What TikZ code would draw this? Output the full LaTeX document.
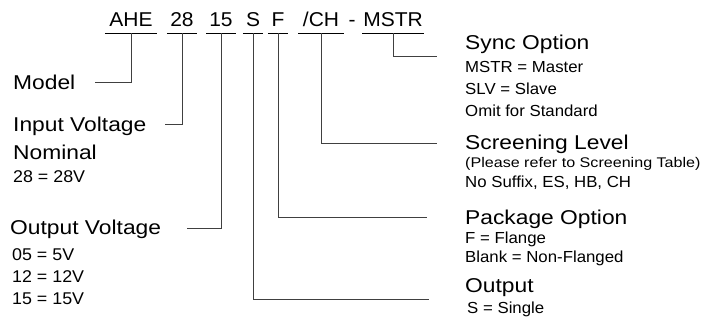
\documentclass[tikz,border=0pt]{standalone}
\usepackage{fontspec}
\setmainfont{Liberation Sans}
\newfontfamily\lsansA[FakeStretch=1.14]{Liberation Sans}
\newfontfamily\lsansB[FakeStretch=1.05]{Liberation Sans}
\newfontfamily\lsansC[FakeStretch=1.15]{Liberation Sans}
\newcommand\bigfnt{\lsansA\fontsize{20}{24}\selectfont}
\newcommand\codefnt{\lsansB\fontsize{20}{24}\selectfont}
\newcommand\smallfnt{\lsansB\fontsize{16}{19}\selectfont}
\newcommand\leftsmallfnt{\lsansB\fontsize{17}{20}\selectfont}
\newcommand\tinyfnt{\lsansC\fontsize{14}{17}\selectfont}
\tikzset{
  codepart/.style={font=\codefnt, anchor=base, inner xsep=0pt, inner ysep=6pt, text depth=0pt},
  biglab/.style={font=\bigfnt, anchor=base west, inner sep=0pt},
  smalllab/.style={font=\smallfnt, anchor=base west, inner sep=0pt},
  leftsmall/.style={font=\leftsmallfnt, anchor=base west, inner sep=0pt},
  tinylab/.style={font=\tinyfnt, anchor=base west, inner sep=0pt},
  uline/.style={draw=black, line width=0.9pt},
  conn/.style={draw=black!75, line width=0.9pt}
}
\begin{document}
\begin{tikzpicture}[x=1pt,y=-1pt]
\useasboundingbox (0,0) rectangle (704,329);
% part number
\node[codepart, minimum width=52pt] (ahe) at (131,27) {AHE};
\node[codepart, minimum width=30pt] (vin) at (182,27) {28};
\node[codepart, minimum width=29pt] (vout) at (221,27) {15};
\node[codepart, minimum width=20pt] (outp) at (253,27) {S};
\node[codepart, minimum width=20pt] (pkg) at (278,27) {F};
\node[codepart, minimum width=45pt] (scr) at (321,27) {/CH};
\node[codepart] (dash) at (352,27) {-};
\node[codepart, minimum width=61pt] (sync) at (393,27) {MSTR};
\foreach \n in {ahe,vin,vout,outp,pkg,scr,sync}
  \draw[uline] (\n.south west) -- (\n.south east);
% left labels
\node[biglab] (model) at (13,89) {Model};
\node[biglab] (inv) at (13,131) {Input Voltage};
\node[biglab] (nom) at (13,159) {Nominal};
\node[leftsmall] (inv1) at (13,182) {28 = 28V};
\node[biglab] (outv) at (10,234) {Output Voltage};
\node[leftsmall] (outv1) at (12,260) {05 = 5V};
\node[leftsmall] (outv2) at (12,282) {12 = 12V};
\node[leftsmall] (outv3) at (12,304) {15 = 15V};
% right labels
\node[biglab] (syncl) at (465,50) {Sync Option};
\node[smalllab] (sync1) at (465,73) {MSTR = Master};
\node[smalllab] (sync2) at (465,94) {SLV = Slave};
\node[smalllab] (sync3) at (465,116) {Omit for Standard};
\node[biglab] (scrl) at (465,149) {Screening Level};
\node[tinylab] (scr1) at (465,167) {(Please refer to Screening Table)};
\node[smalllab] (scr2) at (465,187) {No Suffix, ES, HB, CH};
\node[biglab] (pkgl) at (465,224) {Package Option};
\node[smalllab] (pkg1) at (465,243) {F = Flange};
\node[smalllab] (pkg2) at (465,262) {Blank = Non-Flanged};
\node[biglab] (outl) at (465,292) {Output};
\node[smalllab] (out1) at (467,313) {S = Single};
% connector ends
\coordinate (cmodel) at (95,82);
\coordinate (cinv) at (165,124);
\coordinate (coutv) at (187,228);
\coordinate (csync) at (437,56);
\coordinate (cscr) at (437,143);
\coordinate (cpkg) at (427,217);
\coordinate (cout) at (429,299);
% connectors
\draw[conn] (ahe.south) |- (cmodel);
\draw[conn] (vin.south) |- (cinv);
\draw[conn] (vout.south) |- (coutv);
\draw[conn] (sync.south) |- (csync);
\draw[conn] (scr.south) |- (cscr);
\draw[conn] (pkg.south) |- (cpkg);
\draw[conn] (outp.south) |- (cout);
\end{tikzpicture}
\end{document}
